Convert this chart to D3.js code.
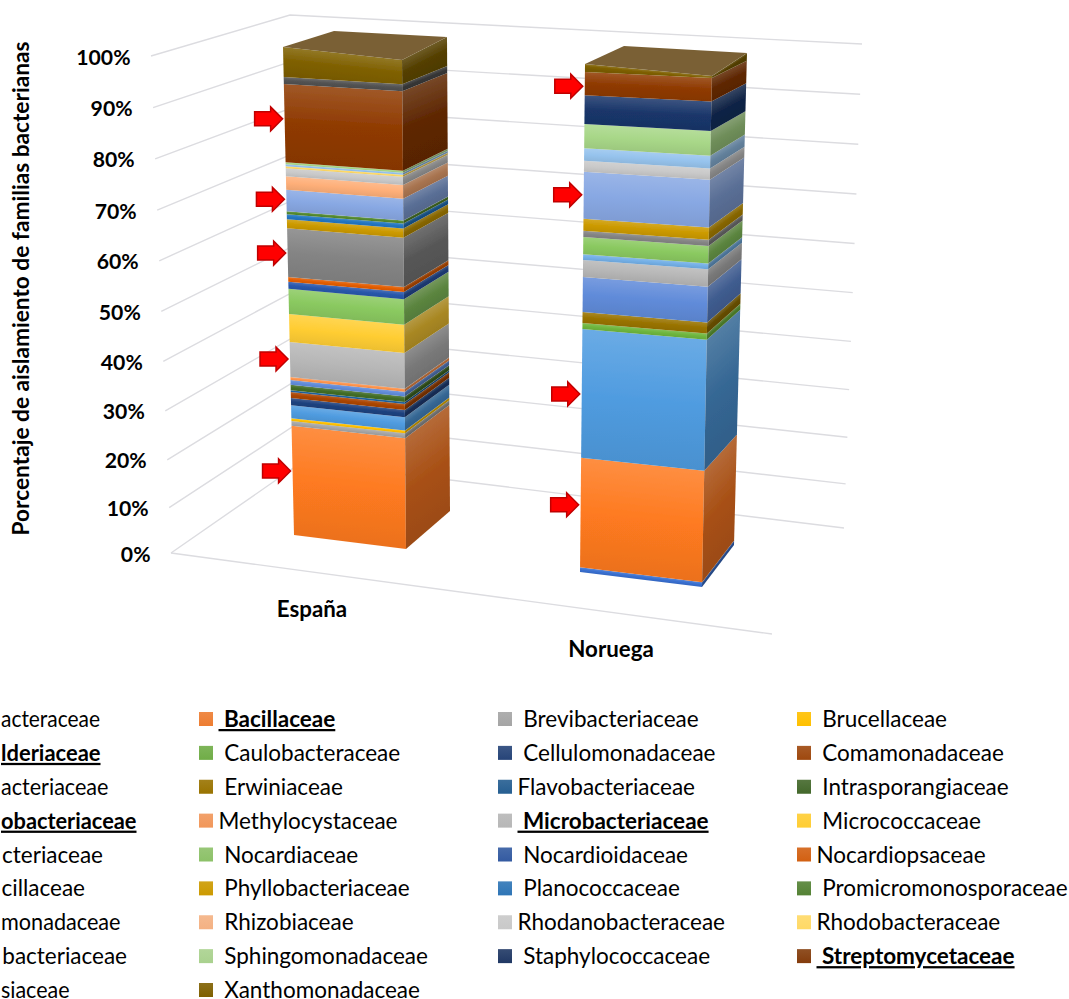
<!DOCTYPE html>
<html><head><meta charset="utf-8">
<script src="https://cdn.jsdelivr.net/npm/d3@7"></script>
<style>
html,body{margin:0;padding:0;background:#fff;overflow:hidden}
svg{display:block}
text{font-family:Lato,Carlito,sans-serif;fill:#000}
</style></head><body><div id="c"></div>
<script>
const categories=["España","Noruega"];
const families=["Arthrobacteraceae","\u00a0Bacillaceae","\u00a0Brevibacteriaceae","\u00a0Brucellaceae",
"Burkholderiaceae","\u00a0Caulobacteraceae","\u00a0Cellulomonadaceae","\u00a0Comamonadaceae",
"Corynebacteriaceae","\u00a0Erwiniaceae","Flavobacteriaceae","\u00a0Intrasporangiaceae",
"Methylobacteriaceae","Methylocystaceae","\u00a0Microbacteriaceae","\u00a0Micrococcaceae",
"Mycobacteriaceae","\u00a0Nocardiaceae","\u00a0Nocardioidaceae","Nocardiopsaceae",
"Paenibacillaceae","\u00a0Phyllobacteriaceae","\u00a0Planococcaceae","\u00a0Promicromonosporaceae",
"Pseudomonadaceae","\u00a0Rhizobiaceae","Rhodanobacteraceae","Rhodobacteraceae",
"Sphingobacteriaceae","\u00a0Sphingomonadaceae","\u00a0Staphylococcaceae","\u00a0Streptomycetaceae",
"Williamsiaceae","\u00a0Xanthomonadaceae"];
// what remains readable of the first legend column, which the picture cuts at its left edge
const cutLabels=["acteraceae","lderiaceae","acteriaceae","obacteriaceae","cteriaceae","cillaceae","monadaceae","bacteriaceae","siaceae"];
const boldFamilies=["Bacillaceae","Burkholderiaceae","Methylobacteriaceae","Microbacteriaceae","Streptomycetaceae"];
const espana=[0,23.7,1.0,0.6,2.7,0,1.5,1.2,0,0,0.4,1.1,1.0,0.6,7.2,5.7,0,5.1,1.4,1.0,9.8,1.8,1.0,0.6,4.3,2.7,1.6,0.4,0.4,0.4,0,15.5,1.4,5.9];
const noruega=[1.1,22.7,0,0,25.4,1.2,0,0,0,2.1,0,0,6.8,0,3.3,0,1.1,3.3,0,0,1.2,2.3,0,0,9.0,0,2.1,0,2.4,4.6,5.5,4.4,0,1.5];
const tickValues=[0,10,20,30,40,50,60,70,80,90,100];
const arrowsEspana=[85.8,69.8,59.0,37.5,14.2];
const arrowsNoruega=[95.8,75.1,36.5,14.3];
const palette=["#4472C4","#ED7D31","#A5A5A5","#FFC000","#5B9BD5","#70AD47","#264478","#9E480E","#636363","#997300","#255E91","#43682B","#698ED0","#F1975A","#B7B7B7","#FFCD33","#7CAFDD","#8CC168","#335AA1","#D26012","#848484","#CC9A00","#2E75B6","#548235","#8FAADC","#F4B183","#C9C9C9","#FFD966","#9DC3E6","#A9D18E","#203864","#843C0C","#525252","#7F6000"];

const W=1069,H=999;
const svg=d3.select("#c").append("svg").attr("width",W).attr("height",H);
const defs=svg.append("defs");
defs.append("filter").attr("id","soft").attr("x","-5%").attr("y","-5%").attr("width","110%").attr("height","110%")
  .append("feGaussianBlur").attr("stdDeviation",0.45);

// perspective: value -> fraction of the height of a vertical edge
const frac=d3.scalePow().exponent(1.04).domain([0,100]).range([0,1]);
const edge=(b,t)=>v=>d3.interpolate(b,t)(frac(v));
// front-right edges bend near the top of the column
const bentEdge=(b,t,knotF,knotY)=>{
  const ys=d3.scaleLinear().domain([0,knotF,1]).range([b[1],knotY,t[1]]);
  const xs=d3.scaleLinear().domain([0,1]).range([b[0],t[0]]);
  return v=>[xs(frac(v)),ys(frac(v))];
};
const wallLeft=edge([171,553],[151,56]);
const wallCorner=edge([302,462],[290,15]);
const wallRight=edge([844,528],[862,44]);
const barGeom=[
 {fl:edge([294,535],[283,47]),fr:bentEdge([406,549],[402,60],0.94,83.5),br:edge([450,511],[447,37]),blTop:[334,31]},
 {fl:edge([580,572],[585,64]),fr:bentEdge([702,587],[712,76],0.9843,78),br:edge([734,545],[747,53]),blTop:[624,46]}
];
const gridColor="#dcdce0";
const line=d3.line();

// gridlines
const gGrid=svg.append("g").attr("fill","none").attr("stroke",gridColor).attr("stroke-width",1.4).attr("filter","url(#soft)");
tickValues.forEach(v=>gGrid.append("path").attr("d",line([wallLeft(v),wallCorner(v),wallRight(v)])));
gGrid.append("path").attr("d",line([wallLeft(0),[772,634]]));

// tick labels
svg.append("g").selectAll("text").data(tickValues).join("text")
 .attr("x",v=>wallLeft(v)[0]-20.5).attr("y",v=>wallLeft(v)[1]+8.5)
 .attr("text-anchor","end")
 .attr("font-size",21.2).attr("font-weight",700).text(v=>v+"%");

// y title
svg.append("text").attr("transform","translate(28.5,288.5) rotate(-90)").attr("text-anchor","middle")
 .attr("font-size",22.7).attr("font-weight",700)
 .text("Porcentaje de aislamiento de familias bacterianas");

// stacks
const rows=categories.map((c,i)=>{const o={};const s=i?noruega:espana;families.forEach((f,k)=>o[f]=s[k]);return o;});
const series=d3.stack().keys(families)(rows);
const mix=(c,o,t)=>d3.interpolateRgb(c,o)(t);
let gid=0;
function bandGradient(topA,topB,botA,botB,base,shade){
  const mid=[(topA[0]+topB[0])/2,(topA[1]+topB[1])/2];
  const bot=[(botA[0]+botB[0])/2,(botA[1]+botB[1])/2];
  let dx=topB[0]-topA[0],dy=topB[1]-topA[1];const len=Math.hypot(dx,dy)||1;
  const nx=-dy/len,ny=dx/len;
  const L=(bot[0]-mid[0])*nx+(bot[1]-mid[1])*ny;
  const id="g"+(gid++);
  const h=d3.hsl(base);h.s=Math.min(1,h.s*1.18);
  const b=d3.rgb(h);const dark=(c,k)=>d3.rgb(c.r*k,c.g*k,c.b*k);
  const g=defs.append("linearGradient").attr("id",id).attr("gradientUnits","userSpaceOnUse")
    .attr("x1",mid[0]).attr("y1",mid[1]).attr("x2",mid[0]+L*nx).attr("y2",mid[1]+L*ny);
  const cc=dark(b,shade);
  g.append("stop").attr("offset",0).attr("stop-color",mix(cc.formatRgb(),"#ffffff",0.15));
  g.append("stop").attr("offset",0.5).attr("stop-color",cc.formatRgb());
  g.append("stop").attr("offset",1).attr("stop-color",dark(b,shade*0.93).formatRgb());
  return "url(#"+id+")";
}
categories.forEach((cat,ci)=>{
  const G=barGeom[ci];
  const g=svg.append("g").attr("filter","url(#soft)");
  series.forEach((s,si)=>{
    const [v0,v1]=s[ci];
    if(v1-v0<=0) return;
    const a=G.fl(v1),b=G.fr(v1),c=G.fr(v0),d=G.fl(v0),e=G.br(v1),f=G.br(v0);
    g.append("path").attr("d",line([a,b,c,d])+"Z").attr("fill",bandGradient(a,b,d,c,palette[si],1));
    g.append("path").attr("d",line([b,e,f,c])+"Z").attr("fill",bandGradient(b,e,c,f,palette[si],0.66));
  });
  g.append("path").attr("d",line([G.fl(100),G.fr(100),G.br(100),G.blTop])+"Z").attr("fill","#7a6135");
});

// category labels
svg.append("g").selectAll("text").data(categories).join("text")
 .attr("x",(d,i)=>[312,611][i]).attr("y",(d,i)=>[617,657][i])
 .attr("text-anchor","middle")
 .attr("font-size",22.3).attr("font-weight",700).text(d=>d);

// arrows
const arrowShape=[[0,0],[-12,-12],[-12,-7],[-28,-7],[-28,7],[-12,7],[-12,12]];
[arrowsEspana,arrowsNoruega].forEach((arr,ci)=>{
  arr.forEach(v=>{
    const p=barGeom[ci].fl(v);
    svg.append("path").attr("d",line(arrowShape.map(q=>[q[0]+p[0]-2,q[1]+p[1]]))+"Z")
      .attr("fill","#ff0000").attr("stroke","#c00000").attr("stroke-width",1.5);
  });
});

// legend
const legendRow=d3.scaleLinear().domain([0,8]).range([719,990]);
const legendCol=d3.scaleLinear().domain([0,3]).range([-100,797]);
const cutEnds=[100,100.5,108.5,136.5,103,85,120.5,127,69.5];
const lg=svg.append("g");
families.forEach((f,i)=>{
  const col=i%4,row=Math.floor(i/4);
  const x=legendCol(col),y=legendRow(row);
  const name=f.replace("\u00a0","");
  const bold=boldFamilies.includes(name);
  const t=lg.append("text").attr("y",y+8).attr("font-size",22.5)
    .attr("font-weight",bold?700:400).attr("text-decoration",bold?"underline":null);
  if(col===0){
    t.attr("x",cutEnds[row]).attr("text-anchor","end").text(cutLabels[row]);
    const room=cutEnds[row]-1;
    if(t.node().getComputedTextLength()>room) t.attr("textLength",room).attr("lengthAdjust","spacingAndGlyphs");
    return;
  }
  const id="sw"+i;
  const gr=defs.append("linearGradient").attr("id",id).attr("x1",0).attr("y1",0).attr("x2",0).attr("y2",1);
  gr.append("stop").attr("offset",0).attr("stop-color",mix(palette[i],"#ffffff",0.1));
  gr.append("stop").attr("offset",1).attr("stop-color",palette[i]);
  lg.append("rect").attr("x",x).attr("y",y-7).attr("width",14).attr("height",14).attr("fill","url(#"+id+")");
  t.attr("x",x+19.5).text(f);
});
</script></body></html>
